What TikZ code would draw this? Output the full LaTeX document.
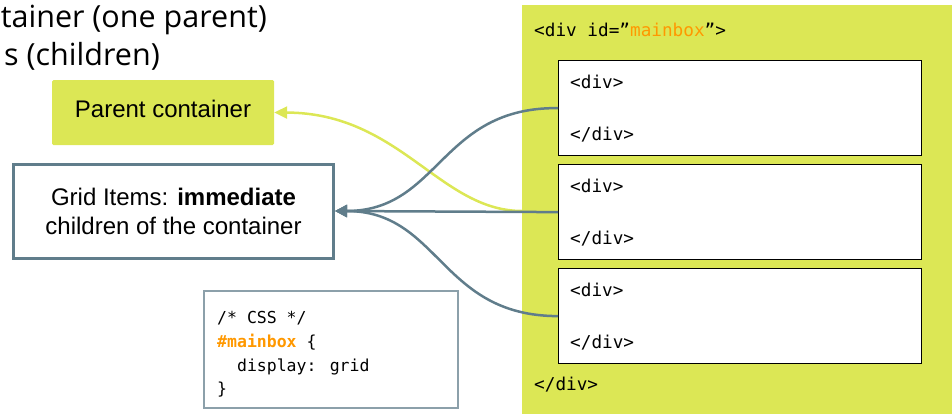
\documentclass[tikz,border=0pt]{standalone}
\usepackage{fontspec}
\setmainfont{Liberation Sans}
\newfontfamily\topfont{Open Sans}
\newfontfamily\codefont{DejaVu Sans Mono}
\usetikzlibrary{arrows.meta}
\definecolor{lime}{RGB}{220,231,85}
\definecolor{slate}{RGB}{96,125,139}
\definecolor{cssgray}{RGB}{140,160,170}
\definecolor{orng}{RGB}{255,152,0}
\tikzset{
  toptext/.style={font=\topfont\fontsize{30.5}{36}\selectfont, inner sep=0pt, anchor=base east},
  boxtext/.style={font=\fontsize{24}{29}\selectfont, align=center},
  code/.style={font=\codefont\fontsize{16.5}{20}\selectfont, inner sep=0pt, anchor=base west},
  html/.style={code, font=\codefont\fontsize{17.7}{20}\selectfont},
  divbox/.style={draw=black, line width=1.2pt, fill=white},
  conn/.style={draw=slate, line width=2.5pt, -{Triangle[length=12pt,width=12pt]}},
  yconn/.style={draw=lime, line width=2.5pt, -{Triangle[length=13pt,width=12pt]}},
}
\begin{document}
\begin{tikzpicture}[x=1pt,y=-1pt]
\useasboundingbox (0,0) rectangle (952,413);
\clip (0,0) rectangle (952,413);
% top clipped text
\node[toptext] (t1) at (267,27) {tainer (one parent)};
\node[toptext] (t2) at (160,65) {s (children)};
% parent container
\node[fill=lime, rounded corners=1.5pt, minimum width=222pt, minimum height=65pt, inner sep=0pt] (parent) at (163,112.5) {};
\node[boxtext, inner sep=0pt, anchor=base] (ptext) at (163,117) {Parent container};
% grid items
\node[draw=slate, line width=3pt, fill=white, minimum width=320pt, minimum height=94pt, boxtext, inner sep=0pt] (items) at (173.5,211) {Grid Items: \textbf{immediate}\\children of the container};
% css box
\draw[cssgray, line width=1.3pt] (204,291) rectangle (458,408);
\node[code] (c1) at (217,323) {/* CSS */};
\node[code] (c2) at (217,347) {\textcolor{orng}{\bfseries \#mainbox} \{};
\node[code] (c3) at (217,371) {\ \ display: grid};
\node[code] (c4) at (217,394) {\}};
% main box
\node[fill=lime, minimum width=432pt, minimum height=410pt, inner sep=0pt, anchor=north west] (main) at (522,5) {};
\node[html] (h1) at (534,36) {<div id=”\textcolor{orng}{mainbox}”>};
\node[html] (h2) at (534,390) {</div>};
\foreach \i/\y in {1/60, 2/164, 3/268} {
  \node[divbox, minimum width=363pt, minimum height=95pt, inner sep=0pt, anchor=north west] (d\i) at (558,\y) {};
  \node[html] (o\i) at (570,\y+28) {<div>};
  \node[html] (e\i) at (570,\y+80) {</div>};
}
% connectors
\coordinate (ystart) at (main.west |- items.east);
\draw[yconn] (ystart) .. controls (440,211) and (400,113) .. (parent.east);
\draw[conn] (d1.west) .. controls (440,107) and (440,211) .. (items.east);
\draw[conn] (d2.west) -- (items.east);
\draw[conn] (d3.west) .. controls (440,316) and (440,211) .. (items.east);
\end{tikzpicture}
\end{document}
